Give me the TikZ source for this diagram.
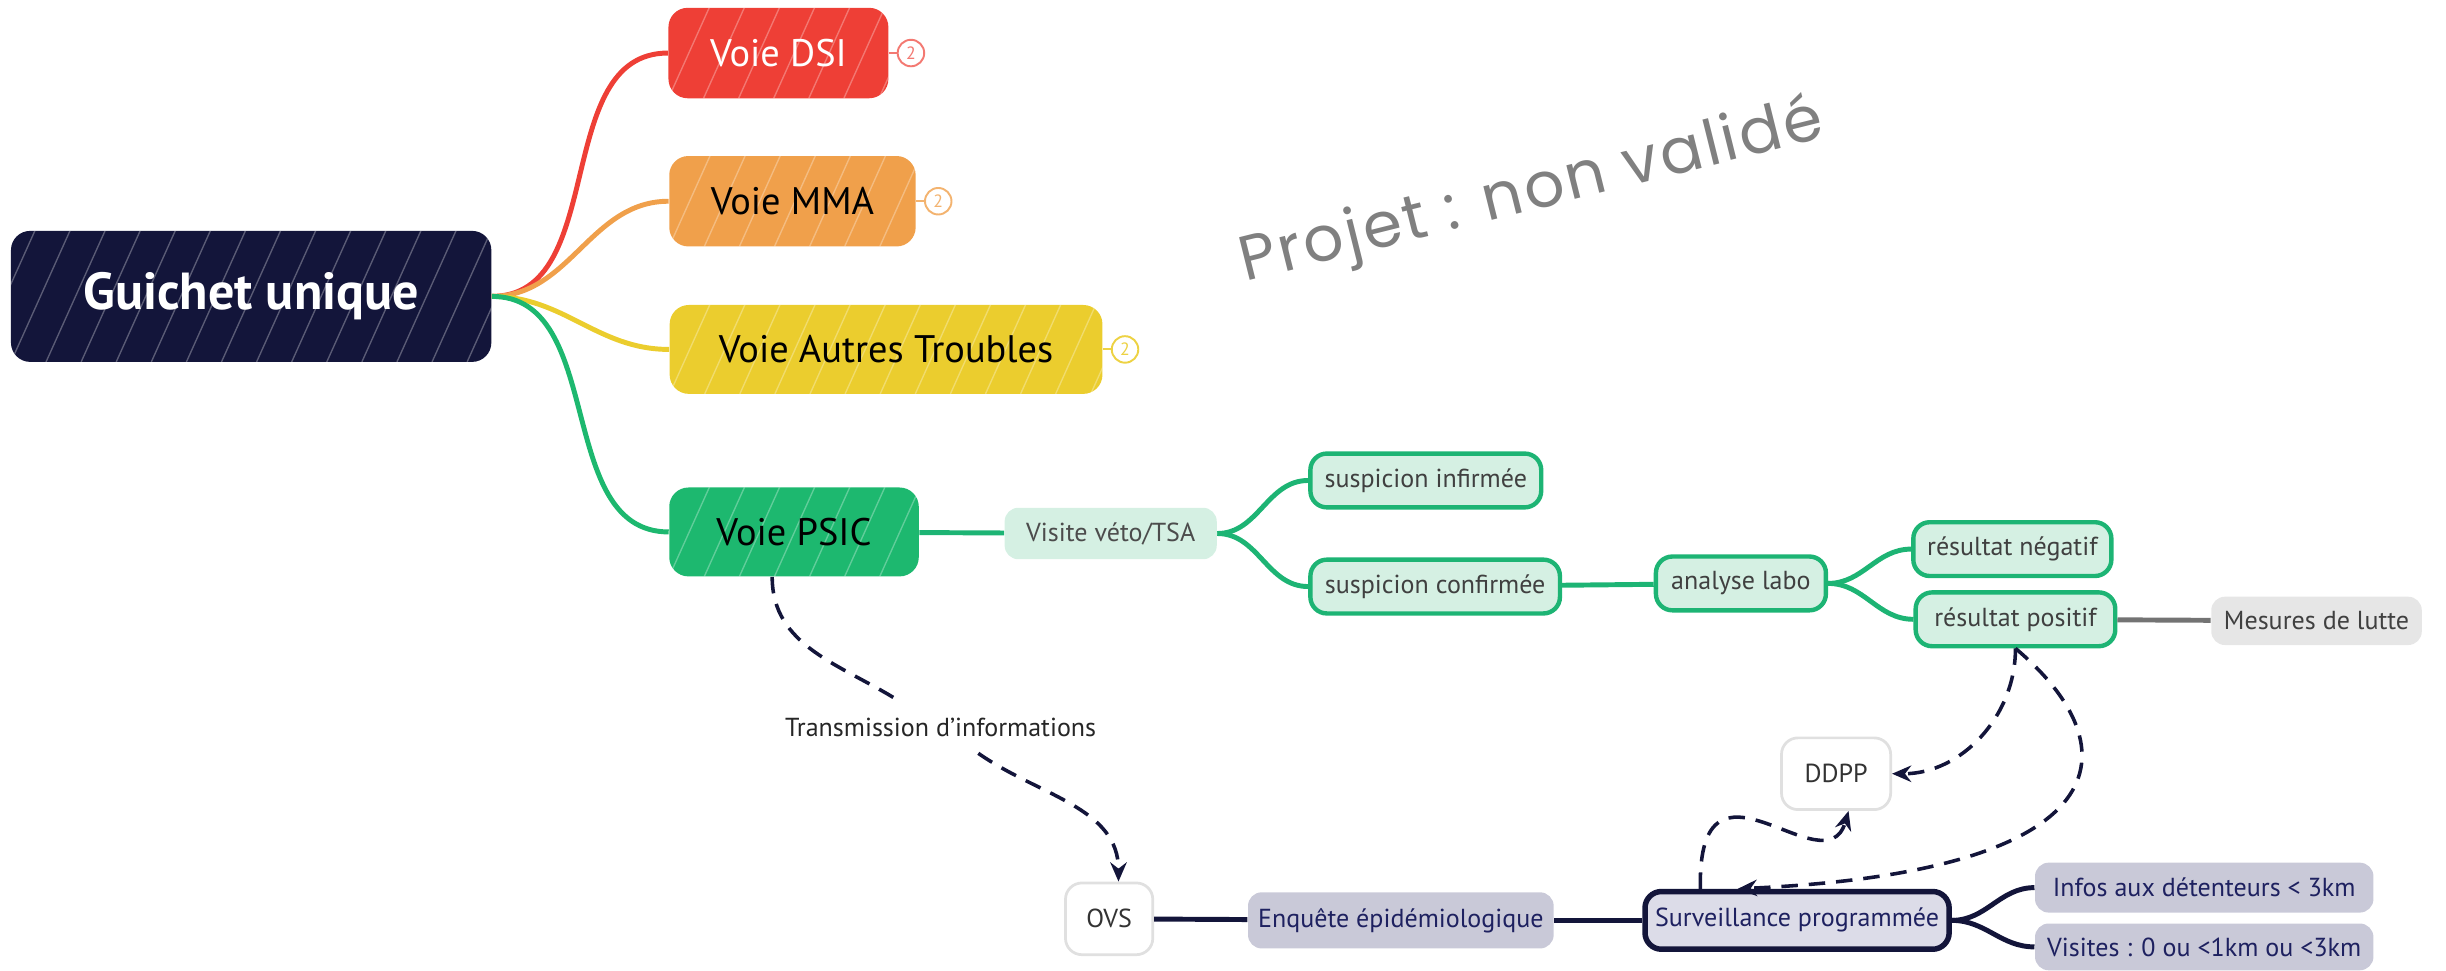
\documentclass[tikz,border=0pt]{standalone}
\usepackage{fontspec}
\setmainfont{PT Sans}
\newfontfamily\stampfont[LetterSpace=4]{Poppins}
\usetikzlibrary{positioning,arrows.meta,calc}

\definecolor{navy}{HTML}{13153A}
\definecolor{dsired}{HTML}{EE3F36}
\definecolor{mmaorange}{HTML}{F0A04B}
\definecolor{troubleyellow}{HTML}{EBCD2E}
\definecolor{psicgreen}{HTML}{1DB86F}
\definecolor{palegreen}{HTML}{D5F0E3}
\definecolor{linegreen}{HTML}{1DB474}
\definecolor{palegray}{HTML}{E6E6E6}
\definecolor{bluegray}{HTML}{C9C9D8}
\definecolor{lavender}{HTML}{DCDCE8}
\definecolor{inknavy}{HTML}{1E2160}

\tikzset{
  hatch/.style={path picture={
      \foreach \k in {-4,...,15}
        \draw[white,opacity=.3,line width=.5pt]
          ([xshift=\k*0.45cm]path picture bounding box.south west) -- ++(0.9cm,2cm);}},
  topic/.style={rounded corners=7pt,inner sep=0pt,hatch,
    font=\fontsize{14}{16}\selectfont},
  leaf/.style={draw=linegreen,line width=1.6pt,fill=palegreen,rounded corners=6pt,
    inner sep=0pt,minimum height=0.69cm,text=black!75,
    font=\fontsize{9.5}{11}\selectfont},
  tint/.style={fill=#1,rounded corners=5pt,inner sep=0pt,minimum height=0.66cm,
    font=\fontsize{9.5}{11}\selectfont},
  boxnote/.style={draw=black!12,line width=1pt,fill=white,rounded corners=6pt,
    inner sep=0pt,minimum width=1.12cm,minimum height=0.92cm,
    text=black!80,font=\fontsize{9.5}{11}\selectfont},
  badge/.style={circle,draw=#1,fill=white,line width=.7pt,inner sep=0pt,
    minimum size=0.34cm,text=#1,font=\fontsize{6.5}{7}\selectfont},
  wire/.style={draw=#1,line width=1.8pt},
  trail/.style={draw=navy,line width=1.3pt,dash pattern=on 6pt off 4pt},
  flow/.style={trail,-{Stealth[length=7pt,width=6pt]}}
}

\begin{document}
\begin{tikzpicture}[x=0.02cm,y=-0.02cm]
  \useasboundingbox (0,0) rectangle (1568,622);

  % watermark
  \node[rotate=14,text=black!50,font=\stampfont\fontsize{23}{27}\selectfont]
    (stamp) at (982,124) {Projet : non validé};

  % centre and main branches
  \node[topic,fill=navy,text=white,minimum width=6.16cm,minimum height=1.68cm,
    font=\bfseries\fontsize{19}{22}\selectfont] (gu) at (161,190) {Guichet unique};
  \node[topic,fill=dsired,text=white,minimum width=2.82cm,minimum height=1.16cm]
    (dsi) at (499,34) {Voie DSI};
  \node[topic,fill=mmaorange,minimum width=3.16cm,minimum height=1.16cm]
    (mma) at (508,129) {Voie MMA};
  \node[topic,fill=troubleyellow,minimum width=5.55cm,minimum height=1.14cm]
    (aut) at (568,224) {Voie Autres Troubles};
  \node[topic,fill=psicgreen,minimum width=3.2cm,minimum height=1.14cm]
    (psic) at (509,341) {Voie PSIC};

  \node[badge=dsired!70,right=0.1cm of dsi]         (dsin) {2};
  \node[badge=mmaorange!80,right=0.1cm of mma]      (mman) {2};
  \node[badge=troubleyellow!90,right=0.1cm of aut]  (autn) {2};

  % PSIC path
  \node[tint=palegreen,minimum width=2.72cm,text=black!70] (vis) at (712,342) {Visite véto/TSA};
  \node[leaf,minimum width=2.96cm] (sinf) at (914,308) {suspicion infirmée};
  \node[leaf,minimum width=3.2cm]  (scon) at (920,376) {suspicion confirmée};
  \node[leaf,minimum width=2.18cm] (labo) at (1116,374) {analyse labo};
  \node[leaf,minimum width=2.54cm] (rneg) at (1290,352) {résultat négatif};
  \node[leaf,minimum width=2.56cm] (rpos) at (1292,397) {résultat positif};
  \node[tint=palegray,minimum width=2.7cm,minimum height=0.62cm,text=black!75]
    (lutte) at (1485,398) {Mesures de lutte};

  % information flow
  \node[text=black!85,font=\fontsize{9.5}{11}\selectfont,inner sep=6pt]
    (trans) at (603,466) {Transmission d'informations};
  \node[boxnote] (ovs)  at (711,589)  {OVS};
  \node[boxnote,minimum width=1.4cm] (ddpp) at (1177,496) {DDPP};
  \node[tint=bluegray,minimum width=3.92cm,minimum height=0.72cm,text=inknavy]
    (enq) at (898,590) {Enquête épidémiologique};
  \node[draw=navy,line width=2pt,fill=lavender,rounded corners=6pt,inner sep=0pt,
    minimum width=3.9cm,minimum height=0.74cm,text=inknavy,
    font=\fontsize{9.5}{11}\selectfont] (surv) at (1152,590) {Surveillance programmée};
  \node[tint=bluegray,minimum width=4.34cm,minimum height=0.64cm,text=inknavy]
    (infos) at (1413,569) {Infos aux détenteurs < 3km};
  \node[tint=bluegray,minimum width=4.34cm,minimum height=0.6cm,text=inknavy]
    (visites) at (1413,607) {Visites : 0 ou <1km ou <3km};

  % branches
  \draw[wire=dsired]        (gu.east) to[out=0,in=180] (dsi.west);
  \draw[wire=mmaorange]     (gu.east) to[out=0,in=180] (mma.west);
  \draw[wire=troubleyellow] (gu.east) to[out=0,in=180] (aut.west);
  \draw[wire=psicgreen]     (gu.east) to[out=0,in=180] (psic.west);
  \draw[dsired!70,line width=.7pt]        (dsi) -- (dsin);
  \draw[mmaorange!80,line width=.7pt]     (mma) -- (mman);
  \draw[troubleyellow!90,line width=.7pt] (aut) -- (autn);

  \draw[wire=linegreen] (psic) -- (vis);
  \draw[wire=linegreen] (vis.east) to[out=0,in=180] (sinf.west);
  \draw[wire=linegreen] (vis.east) to[out=0,in=180] (scon.west);
  \draw[wire=linegreen] (scon) -- (labo);
  \draw[wire=linegreen] (labo.east) to[out=0,in=180] (rneg.west);
  \draw[wire=linegreen] (labo.east) to[out=0,in=180] (rpos.west);
  \draw[wire=black!55]  (rpos) -- (lutte);

  \draw[wire=navy] (ovs) -- (enq);
  \draw[wire=navy] (enq) -- (surv);
  \draw[wire=navy] (surv.east) to[out=0,in=180] (infos.west);
  \draw[wire=navy] (surv.east) to[out=0,in=180] (visites.west);

  % dashed links
  \draw[trail] ($(psic.south)+(-14,0)$) to[out=-90,in=148] (trans);
  \draw[flow]  (trans) to[out=-35,in=90] ($(ovs.north)+(6,0)$);
  \draw[flow]  (rpos.south) to[out=-90,in=0] (ddpp.east);
  \draw[flow]  (rpos.south) .. controls +(76,64) and +(246,-11) .. ($(surv.north)+(-38,0)$);
  \draw[flow]  ($(surv.north)+(-62,0)$) .. controls +(-2,-100) and +(-15,51) .. ($(ddpp.south)+(8,0)$);
\end{tikzpicture}
\end{document}
